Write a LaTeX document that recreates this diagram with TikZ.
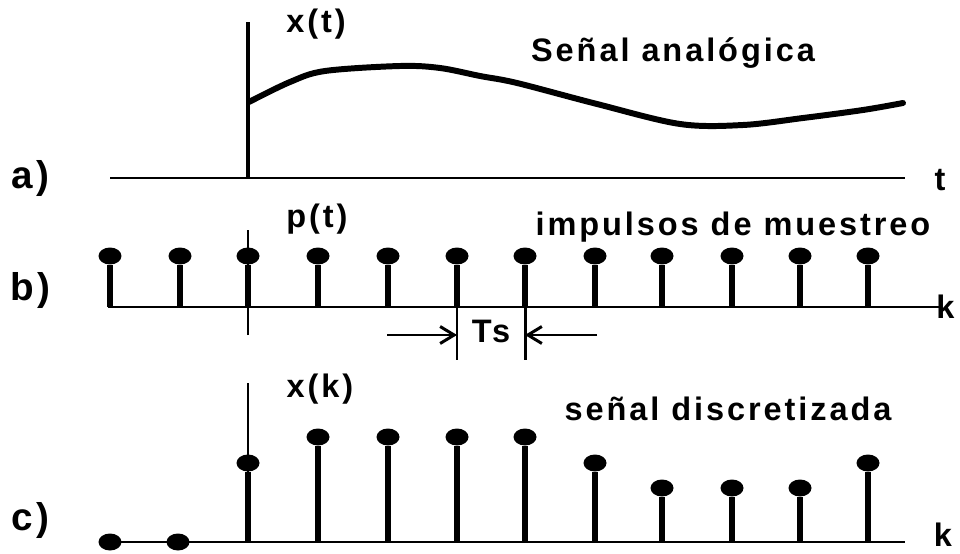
\documentclass[tikz,border=0pt]{standalone}
\usepackage{fontspec}
\newfontfamily\lblfont{Liberation Sans}[LetterSpace=9,BoldFont={Liberation Sans Bold}]
\usepackage{tikz}
\usetikzlibrary{arrows.meta,shapes.geometric,positioning,calc}

\tikzset{
  axis/.style={line width=1.7pt},
  stem/.style={line width=3pt},
  dot/.style={ellipse,fill,inner sep=0pt,minimum width=0.46cm,minimum height=0.34cm},
  lbl/.style={inner sep=0pt,anchor=base,font=\lblfont\bfseries\fontsize{18.5}{20}\selectfont},
  part/.style={inner sep=0pt,anchor=base,font=\lblfont\bfseries\fontsize{22}{24}\selectfont},
  tsarrow/.style={line width=1.7pt,-{Straight Barb[length=0.28cm,width=0.34cm,line width=1.7pt]}}
}

\begin{document}
\begin{tikzpicture}[x=0.02cm,y=-0.02cm]
  \useasboundingbox (0,0) rectangle (960,554);

  % a) analog signal
  \coordinate (aL) at (110,178);
  \coordinate (aR) at (905,178);
  \coordinate (aO) at (248,178);
  \coordinate (aT) at (248,22);
  \draw[axis] (aL) -- (aR);
  \draw[line width=2.8pt] (aO) -- (aT);
  \draw[line width=3.4pt,line cap=round] plot[smooth,tension=.55] coordinates
    {(249,102) (290,82) (325,71) (400,66) (440,68) (480,76) (517,83) (597,104) (680,124) (743,125) (803,118) (863,110) (903,103)};
  \node[lbl] (xt) at (316,33) {x(t)};
  \node[lbl] (analog) at (673,62) {Señal analógica};
  \node[part] (pa) at (30,188) {a)};
  \node[lbl] (tt) at (940,190) {t};

  % b) sampling impulses
  \coordinate (bL) at (108,307);
  \coordinate (bR) at (940,307);
  \draw[axis] (bL) -- (bR);
  \coordinate (bO) at (248,335);
  \coordinate (bT) at (248,230);
  \draw[axis] (bO) -- (bT);
  \foreach \n/\x in {1/110,2/180,3/248,4/318,5/388,6/457,7/525,8/595,9/662,10/732,11/800,12/868}{
    \coordinate (bb\n) at (\x,307);
    \node[dot] (bt\n) at (\x,256) {};
    \draw[stem] (bb\n) -- (bt\n);
  }
  \node[lbl] (pt) at (317,227) {p(t)};
  \node[lbl] (imp) at (733,235) {impulsos de muestreo};
  \node[part] (pb) at (30,300) {b)};
  \node[lbl,anchor=west] (kb) at (936,307) {k};

  % Ts marks
  \coordinate (m1) at (457,360);
  \coordinate (m2) at (525,360);
  \draw[axis] (bb6) -- (m1);
  \draw[axis] (bb7) -- (m2);
  \coordinate (t1) at (387,335);
  \coordinate (t2) at (597,335);
  \draw[tsarrow] (t1) -- (t1 -| m1);
  \draw[tsarrow] (t2) -- (t2 -| m2);
  \node[lbl] (ts) at (491,342) {Ts};

  % c) discrete signal
  \coordinate (cL) at (110,542);
  \coordinate (cR) at (905,542);
  \draw[axis] (cL) -- (cR);
  \coordinate (cT) at (248,383);
  \draw[axis] (248,542) -- (cT);
  \foreach \n/\x/\y in {1/110/542,2/178/542,3/248/463,4/318/437,5/388/437,6/457/437,7/525/437,8/595/463,9/662/488,10/732/488,11/800/488,12/868/463}{
    \coordinate (cb\n) at (\x,542);
    \node[dot] (ct\n) at (\x,\y) {};
    \draw[stem] (cb\n) -- (ct\n);
  }
  \node[lbl] (xk) at (320,397) {x(k)};
  \node[lbl] (disc) at (728,420) {señal discretizada};
  \node[part] (pc) at (30,530) {c)};
  \node[lbl] (kc) at (943,546) {k};
\end{tikzpicture}
\end{document}
